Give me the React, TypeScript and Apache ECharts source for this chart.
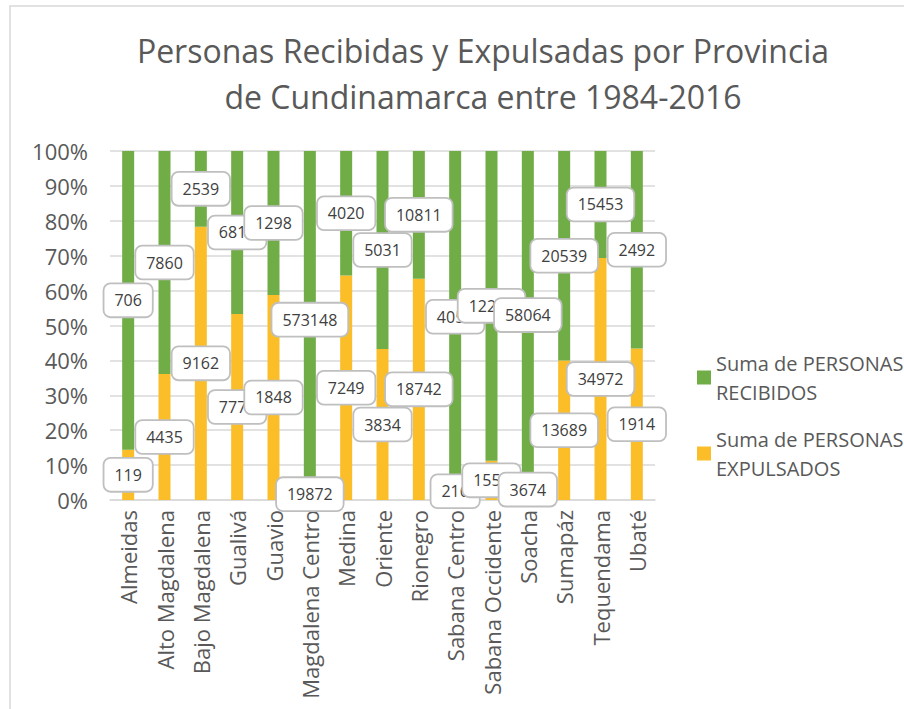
import React, { useEffect, useRef } from 'react';
import * as echarts from 'echarts';

const categories = [
  'Almeidas', 'Alto Magdalena', 'Bajo Magdalena', 'Gualivá', 'Guavio',
  'Magdalena Centro', 'Medina', 'Oriente', 'Rionegro', 'Sabana Centro',
  'Sabana Occidente', 'Soacha', 'Sumapáz', 'Tequendama', 'Ubaté',
];
const recibidos = [706, 7860, 2539, 6812, 1298, 573148, 4020, 5031, 10811, 4059, 12236, 58064, 20539, 15453, 2492];
const expulsados = [119, 4435, 9162, 7776, 1848, 19872, 7249, 3834, 18742, 216, 1552, 3674, 13689, 34972, 1914];

const nameRec = 'Suma de PERSONAS\nRECIBIDOS';
const nameExp = 'Suma de PERSONAS\nEXPULSADOS';
const FONT = '"Open Sans", sans-serif';

export default function App() {
  const ref = useRef<HTMLDivElement>(null);
  useEffect(() => {
    if (!ref.current) return;
    const chart = echarts.init(ref.current, undefined, { renderer: 'svg' });
    const totals = categories.map((_, i) => recibidos[i] + expulsados[i]);
    const expPct = expulsados.map((v, i) => ({ value: (v / totals[i]) * 100, raw: v }));
    const recPct = recibidos.map((v, i) => ({ value: (v / totals[i]) * 100, raw: v }));
    const labelStyle = {
      show: true,
      position: 'inside',
      formatter: (p: any) => String(p.data.raw),
      fontFamily: FONT,
      fontSize: 16,
      color: '#404040',
      backgroundColor: '#ffffff',
      borderColor: '#bfbfbf',
      borderWidth: 1.8,
      borderRadius: 6,
      padding: [7, 10, 6, 10],
      lineHeight: 19,
    };
    const legendText = {
      fontFamily: FONT,
      fontSize: 20,
      color: '#595959',
      lineHeight: 29,
      padding: [29, 0, 0, 0],
    };
    chart.setOption({
      animation: false,
      backgroundColor: '#ffffff',
      textStyle: { fontFamily: FONT },
      graphic: [
        {
          type: 'rect',
          shape: { x: 10, y: 6, width: 1000, height: 800 },
          style: { fill: 'none', stroke: '#d9d9d9', lineWidth: 1.5 },
          silent: true,
          z: -10,
        },
      ],
      title: {
        text: 'Personas Recibidas y Expulsadas por Provincia\nde Cundinamarca entre 1984-2016',
        left: 478,
        top: 22,
        textAlign: 'center',
        textStyle: {
          fontFamily: FONT,
          fontSize: 32,
          fontWeight: 'normal',
          color: '#595959',
          lineHeight: 46,
        },
      },
      legend: [
        {
          data: [nameRec],
          left: 697,
          top: 334,
          padding: 0,
          itemWidth: 14,
          itemHeight: 14,
          icon: 'rect',
          textStyle: legendText,
        },
        {
          data: [nameExp],
          left: 697,
          top: 410,
          padding: 0,
          itemWidth: 14,
          itemHeight: 14,
          icon: 'rect',
          textStyle: legendText,
        },
      ],
      grid: { left: 110, right: 249, top: 151, bottom: 209, containLabel: false },
      xAxis: {
        type: 'category',
        data: categories,
        axisLine: { lineStyle: { color: '#d9d9d9', width: 1.5 } },
        axisTick: { show: false },
        axisLabel: {
          rotate: 90,
          interval: 0,
          margin: 10,
          fontFamily: FONT,
          fontSize: 22,
          color: '#595959',
        },
      },
      yAxis: {
        type: 'value',
        min: 0,
        max: 100,
        interval: 10,
        axisLine: { show: false },
        axisTick: { show: false },
        splitLine: { lineStyle: { color: '#d9d9d9', width: 1.5 } },
        axisLabel: {
          formatter: '{value}%',
          margin: 22,
          fontFamily: FONT,
          fontSize: 22,
          color: '#595959',
        },
      },
      series: [
        {
          name: nameExp,
          type: 'bar',
          stack: 'total',
          data: expPct,
          barWidth: 12,
          itemStyle: { color: '#fbbe28' },
          label: labelStyle,
        },
        {
          name: nameRec,
          type: 'bar',
          stack: 'total',
          data: recPct,
          barWidth: 12,
          itemStyle: { color: '#70ad47' },
          label: labelStyle,
        },
      ],
    });
    return () => chart.dispose();
  }, []);
  return (
    <div
      ref={ref}
      style={{ position: 'absolute', left: 0, top: 0, width: 904, height: 709 }}
    />
  );
}
